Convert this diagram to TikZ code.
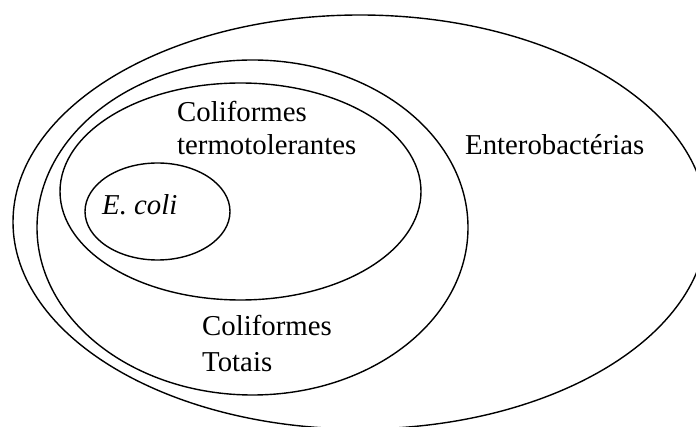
\documentclass[tikz,border=0pt]{standalone}
\usepackage{fontspec}
\setmainfont{Liberation Serif}
\begin{document}
\begin{tikzpicture}[x=1pt,y=-1pt,
  ring/.style={draw=black,line width=1.4pt},
  lbl/.style={anchor=base west,inner sep=0pt,font=\fontsize{28.8}{33}\selectfont}]
\useasboundingbox (0,0) rectangle (696,427);
\clip (0,0) rectangle (696,427);
\draw[ring] (360,222) ellipse [x radius=347, y radius=207];
\draw[ring] (252.5,227.5) ellipse [x radius=215.5, y radius=167.5];
\draw[ring] (240.5,191.5) ellipse [x radius=180.5, y radius=108.5];
\draw[ring] (157.5,211.5) ellipse [x radius=72.5, y radius=48.5];
\node[lbl] (ct1) at (177,122) {Coliformes};
\node[lbl] (ct2) at (177,155) {termotolerantes};
\node[lbl] (ent) at (465,155) {Enterobactérias};
\node[lbl] (eco) at (102,215) {\itshape E. coli};
\node[lbl] (tot1) at (202,336) {Coliformes};
\node[lbl] (tot2) at (202,372) {Totais};
\end{tikzpicture}
\end{document}
